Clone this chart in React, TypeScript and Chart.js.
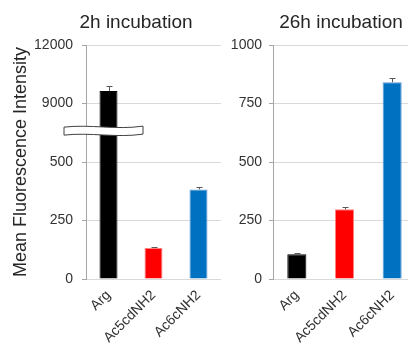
import React, { useEffect, useRef } from 'react';
import { Chart, registerables } from 'chart.js';

Chart.register(...registerables);

const categories = ['Arg', 'Ac5cdNH2', 'Ac6cNH2'];
const barColors = ['#000000', '#ff0000', '#0070c0'];
const barBorders = ['#000000', '#ff8080', '#5b9bd5'];

const values2h = [9640, 132, 383];
const errors2h = [260, 4, 10];
const values26h = [106, 298, 841];
const errors26h = [3, 11, 17];

const tickLabels2h = ['0', '250', '500', '9000', '12000'];
const tickLabels26h = ['0', '250', '500', '750', '1000'];

// broken axis for the 2h panel: lower segment 0-750 linear, upper segment 9000-12000 mapped onto 750-1000
const BREAK_AXIS = 750;
const UPPER_START = 9000;
const UPPER_RATIO = 250 / 3000;
const BREAK_MARK = 632;
const to2hAxis = (v: number) => (v > 1000 ? BREAK_AXIS + (v - UPPER_START) * UPPER_RATIO : v);
const identity = (v: number) => v;

const FONT = '"Liberation Sans", Arial, Helvetica, sans-serif';
const TEXT = '#333333';

function errorBarPlugin(vals: number[], errs: number[], tf: (v: number) => number) {
  return {
    id: 'errbars',
    afterDatasetsDraw(chart: any) {
      const ctx = chart.ctx;
      const meta = chart.getDatasetMeta(0);
      const y = chart.scales.y;
      ctx.save();
      ctx.strokeStyle = '#595959';
      ctx.lineWidth = 1;
      meta.data.forEach((bar: any, i: number) => {
        const x = Math.round(bar.x) + 0.5;
        const yTop = Math.round(y.getPixelForValue(tf(vals[i] + errs[i]))) + 0.5;
        ctx.beginPath();
        ctx.moveTo(x, bar.y);
        ctx.lineTo(x, yTop);
        ctx.moveTo(x - 3, yTop);
        ctx.lineTo(x + 3, yTop);
        ctx.stroke();
      });
      ctx.restore();
    },
  };
}

function titlePlugin(text: string, offset: number) {
  return {
    id: 'ptitle',
    afterDraw(chart: any) {
      const ctx = chart.ctx;
      ctx.save();
      ctx.font = `19px ${FONT}`;
      ctx.fillStyle = '#262626';
      ctx.textAlign = 'center';
      ctx.textBaseline = 'alphabetic';
      ctx.fillText(text, chart.chartArea.left + offset, 28);
      ctx.restore();
    },
  };
}

const breakPlugin = {
  id: 'axisbreak',
  afterDatasetsDraw(chart: any) {
    const ctx = chart.ctx;
    const yc = chart.scales.y.getPixelForValue(BREAK_MARK);
    const x0 = chart.chartArea.left - 22;
    const x1 = chart.chartArea.left + 57;
    const w = x1 - x0;
    const h = 8;
    const top = yc - h / 2;
    ctx.save();
    ctx.beginPath();
    ctx.moveTo(x0, top);
    ctx.bezierCurveTo(x0 + w / 3, top - 3, x0 + (2 * w) / 3, top + 3, x1, top - 1);
    ctx.lineTo(x1, top - 1 + h);
    ctx.bezierCurveTo(x0 + (2 * w) / 3, top + 3 + h, x0 + w / 3, top - 3 + h, x0, top + h);
    ctx.closePath();
    ctx.fillStyle = '#ffffff';
    ctx.fill();
    ctx.strokeStyle = '#404040';
    ctx.lineWidth = 1;
    ctx.stroke();
    ctx.restore();
  },
};

function makeConfig(
  vals: number[],
  errs: number[],
  tf: (v: number) => number,
  tickLabels: string[],
  yWidth: number,
  yTitle: string | null,
  title: string,
  titleOffset: number,
  padRight: number,
  labelPad: number,
  extra: any[]
): any {
  return {
    type: 'bar',
    data: {
      labels: categories,
      datasets: [
        {
          data: vals.map(tf),
          backgroundColor: barColors,
          borderColor: barBorders,
          borderWidth: 1,
          barPercentage: 0.4,
          categoryPercentage: 1,
        },
      ],
    },
    options: {
      responsive: false,
      animation: false,
      devicePixelRatio: 1,
      layout: { padding: { top: 45, right: padRight, bottom: 0, left: 0 } },
      plugins: {
        legend: { display: false },
        tooltip: { enabled: false },
        title: { display: false },
      },
      scales: {
        x: {
          grid: { display: false, drawTicks: false },
          border: { display: false },
          ticks: {
            minRotation: 45,
            maxRotation: 45,
            padding: 8,
            color: TEXT,
            font: { family: FONT, size: 14 },
          },
          afterFit: (s: any) => {
            s.height = 66;
          },
        },
        y: {
          min: 0,
          max: 1000,
          ticks: {
            stepSize: 250,
            padding: labelPad,
            color: TEXT,
            font: { family: FONT, size: 14 },
            callback: (_v: any, i: number) => tickLabels[i],
          },
          grid: { color: '#d9d9d9', tickColor: '#a6a6a6', tickLength: 4 },
          border: { color: '#a6a6a6' },
          title: yTitle
            ? {
                display: true,
                text: yTitle,
                color: '#262626',
                font: { family: FONT, size: 18 },
                padding: { top: 10, bottom: 0 },
              }
            : { display: false },
          afterFit: (s: any) => {
            s.width = yWidth;
          },
        },
      },
    },
    plugins: [errorBarPlugin(vals, errs, tf), ...extra, titlePlugin(title, titleOffset)],
  };
}

export default function App() {
  const ref1 = useRef<HTMLCanvasElement>(null);
  const ref2 = useRef<HTMLCanvasElement>(null);

  useEffect(() => {
    Chart.defaults.font.family = FONT;
    const c1 = new Chart(
      ref1.current as HTMLCanvasElement,
      makeConfig(values2h, errors2h, to2hAxis, tickLabels2h, 86, 'Mean Fluorescence Intensity', '2h incubation', 50, 4, 9, [breakPlugin])
    );
    const c2 = new Chart(
      ref2.current as HTMLCanvasElement,
      makeConfig(values26h, errors26h, identity, tickLabels26h, 43, null, '26h incubation', 68, 4, 7, [])
    );
    return () => {
      c1.destroy();
      c2.destroy();
    };
  }, []);

  return (
    <div
      style={{
        position: 'absolute',
        left: 0,
        top: 0,
        width: 408,
        height: 345,
        overflow: 'hidden',
        background: '#ffffff',
      }}
    >
      <canvas
        ref={ref1}
        width={225}
        height={345}
        style={{ position: 'absolute', left: 0, top: 0, width: 225, height: 345 }}
      />
      <canvas
        ref={ref2}
        width={190}
        height={345}
        style={{ position: 'absolute', left: 230, top: 0, width: 190, height: 345 }}
      />
    </div>
  );
}
